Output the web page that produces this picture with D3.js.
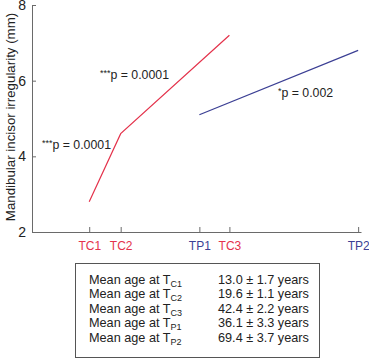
<!DOCTYPE html>
<html><head><meta charset="utf-8">
<script src="https://cdn.jsdelivr.net/npm/d3@7"></script>
<style>body{margin:0;background:#fff;font-family:"Liberation Sans",Arial,sans-serif;}</style>
</head><body><svg id="c" width="369" height="359"></svg>
<script>
const tickLabels = ["TC1","TC2","TP1","TC3","TP2"];
const tickAges = [13.0,19.6,36.1,42.4,69.4];
const tickGroup = ["C","C","P","C","P"];
const yTicks = [2,4,6,8];
const cAges = [13.0,19.6,42.4];
const cValues = [2.8,4.6,7.2];
const pAges = [36.1,69.4];
const pValues = [5.1,6.8];
const pLabels = ["***p = 0.0001","***p = 0.0001","*p = 0.002"];
const rowLabels = ["C1","C2","C3","P1","P2"];
const rowMeans = ["13.0","19.6","42.4","36.1","69.4"];
const rowSDs = ["1.7","1.1","2.2","3.3","3.7"];

const red = "#e4324b", blue = "#3b3f94", axisCol = "#6a6a6a";
const svg = d3.select("#c");
const x = d3.scaleLinear().domain([1,70]).range([32,361]);
const y = d3.scaleLinear().domain([2,8]).range([232,5]);

// axes
const ya = svg.append("g").attr("transform","translate(32,0)")
  .call(d3.axisLeft(y).tickValues(yTicks).tickFormat(d3.format("d")).tickSizeInner(-4).tickSizeOuter(0).tickPadding(6));
ya.select(".domain").attr("stroke",axisCol);
ya.selectAll("line").attr("stroke",axisCol);
ya.selectAll("text").attr("font-size",14).attr("font-family","Liberation Sans, Arial").attr("fill","#222");

const xa = svg.append("g").attr("transform","translate(0,232)")
  .call(d3.axisBottom(x).tickValues(tickAges).tickFormat((d,i)=>tickLabels[i]).tickSizeInner(-5).tickSizeOuter(0).tickPadding(9));
xa.select(".domain").attr("stroke",axisCol);
xa.selectAll("line").attr("stroke",axisCol);
xa.selectAll("text").attr("font-size",12).attr("font-family","Liberation Sans, Arial")
  .attr("fill",(d,i)=>tickGroup[i]==="C"?red:blue);

svg.append("text").attr("transform","translate(15,117) rotate(-90)").attr("text-anchor","middle")
  .attr("font-size",13.3).attr("fill","#222").text("Mandibular incisor irregularity (mm)");

const line = d3.line().x(d=>x(d[0])).y(d=>y(d[1]));
svg.append("path").datum(cAges.map((a,i)=>[a,cValues[i]])).attr("d",line).attr("fill","none").attr("stroke",red).attr("stroke-width",1.2);
svg.append("path").datum(pAges.map((a,i)=>[a,pValues[i]])).attr("d",line).attr("fill","none").attr("stroke",blue).attr("stroke-width",1.2);

// p labels
const pPos = [[100,79],[42,149],[278,97]];
pLabels.forEach((t,i)=>{
  const m = t.match(/^(\*+)(.*)$/);
  const tx = svg.append("text").attr("x",pPos[i][0]).attr("y",pPos[i][1]).attr("font-size",12.3).attr("fill","#222");
  tx.append("tspan").attr("font-size",9).attr("dy",-3).text(m[1]);
  tx.append("tspan").attr("dy",3).text(m[2]);
});

// table
svg.append("rect").attr("x",75.5).attr("y",263.5).attr("width",244).attr("height",94).attr("fill","none").attr("stroke","#555").attr("stroke-width",1);
rowLabels.forEach((r,i)=>{
  const yy = 284 + i*14.4;
  const t = svg.append("text").attr("x",89).attr("y",yy).attr("font-size",12.7).attr("fill","#222");
  t.append("tspan").text("Mean age at T");
  t.append("tspan").attr("font-size",9).attr("dy",3).text(r);
  svg.append("text").attr("x",218).attr("y",yy).attr("font-size",12.7).attr("fill","#222")
    .text(rowMeans[i]+" \u00b1 "+rowSDs[i]+" years");
});
</script></body></html>
